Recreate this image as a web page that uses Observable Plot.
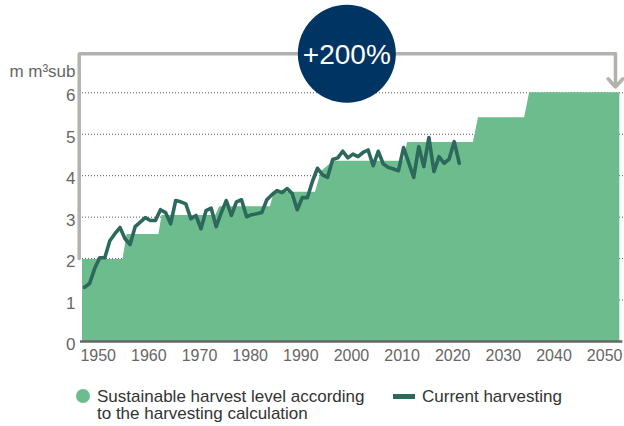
<!DOCTYPE html>
<html><head><meta charset="utf-8">
<script src="https://cdn.jsdelivr.net/npm/d3@7"></script>
<script src="https://cdn.jsdelivr.net/npm/@observablehq/plot@0.6"></script>
<style>
body{margin:0;background:#fff;font-family:"Liberation Sans",Arial,sans-serif;}
#wrap{position:relative;width:624px;height:426px;overflow:hidden;background:#fff}
#wrap svg{position:absolute;left:0;top:0;overflow:visible}
.lg-text{position:absolute;font-size:17px;line-height:17px;color:#333;white-space:pre-line}
.lg-dot{position:absolute;width:14px;height:14px;border-radius:50%}
.lg-line{position:absolute;width:22px;height:5px}
</style></head><body><div id="wrap"></div>
<script>
const harvestYears = d3.range(1947, 2022);
const harvestValues = [
  1.31, 1.40, 1.76, 2.02, 2.02, 2.43, 2.60, 2.75, 2.48, 2.34,
  2.77, 2.88, 2.99, 2.92, 2.92, 3.18, 3.11, 2.84, 3.40, 3.37,
  3.32, 2.96, 3.04, 2.72, 3.16, 3.22, 2.77, 3.11, 3.40, 3.04,
  3.37, 3.42, 3.01, 3.06, 3.08, 3.11, 3.42, 3.54, 3.64, 3.59,
  3.69, 3.57, 3.18, 3.47, 3.47, 3.86, 4.18, 4.02, 3.96, 4.39,
  4.43, 4.59, 4.43, 4.52, 4.46, 4.56, 4.62, 4.24, 4.59, 4.28,
  4.20, 4.16, 4.12, 4.68, 4.32, 3.96, 4.70, 4.22, 4.92, 4.10,
  4.46, 4.30, 4.40, 4.82, 4.30
];
const sustainYears  = [1946.6, 1954.6, 1955.4, 1961.7, 1962.3, 1972.9, 1973.7, 1983.7, 1984.5, 1992.6, 1993.8, 1996.2, 2010.0, 2010.8, 2023.8, 2024.8, 2033.9, 2034.9, 2052.7];
const sustainValues = [1.98,   1.98,   2.58,   2.58,   3.04,   3.04,   3.25,   3.25,   3.60,   3.60,   4.10,   4.35,   4.35,   4.80,   4.80,   5.40,   5.40,   6.00,   6.00];
const xTicks = [1950, 1960, 1970, 1980, 1990, 2000, 2010, 2020, 2030, 2040, 2050];
const yTicks = [0, 1, 2, 3, 4, 5, 6];
const yLabel = "m m³sub";
const changeLabel = "+200%";
const changeFrom = 2, changeTo = 6;
const legendLabels = ["Sustainable harvest level according\nto the harvesting calculation", "Current harvesting"];

const colors = {area: "#6cbc8d", line: "#2d685c", navy: "#003463", bracket: "#b3b3ae", text: "#666"};

const harvest = harvestYears.map((year, i) => ({year, value: harvestValues[i]}));
const sustain = sustainYears.map((year, i) => ({year, value: sustainValues[i]}));

// annotation bracket geometry (data units)
const bracketLeft = 1945.95, bracketRight = 2051.85, bracketTop = 6.94, arrowTip = 6.14;
const bracket = [
  {x: bracketLeft, y: changeFrom},
  {x: bracketLeft, y: bracketTop},
  {x: bracketRight, y: bracketTop}
];
const badge = [{x: 1998.8, y: bracketTop, label: changeLabel}];

const chart = Plot.plot({
  width: 624,
  height: 372,
  marginLeft: 82,
  marginRight: 4.7,
  marginTop: 92.3,
  marginBottom: 31,
  x: {domain: [1946.6, 2052.7]},
  y: {domain: [0, 6]},
  style: {fontFamily: "'Liberation Sans', Arial, sans-serif", background: "transparent", overflow: "visible"},
  marks: [
    Plot.ruleY(yTicks.filter(d => d > 0), {stroke: "#555", strokeWidth: 1, strokeDasharray: "1,2", insetRight: -5}),
    Plot.areaY(sustain, {x: "year", y: "value", fill: colors.area, curve: "linear"}),
    Plot.ruleY([0], {stroke: "#666", strokeWidth: 2.5, insetLeft: -2, insetRight: -3}),
    Plot.lineY(harvest, {x: "year", y: "value", stroke: colors.line, strokeWidth: 3.6, strokeLinejoin: "round", strokeLinecap: "round"}),
    Plot.line(bracket, {x: "x", y: "y", stroke: colors.bracket, strokeWidth: 3.5, strokeLinejoin: "miter"}),
    Plot.arrow([{x: bracketRight, y1: bracketTop, y2: arrowTip}], {x1: "x", x2: "x", y1: "y1", y2: "y2", stroke: colors.bracket, strokeWidth: 3.5, headLength: 18, headAngle: 84}),
    Plot.dot(badge, {x: "x", y: "y", r: 49, fill: colors.navy, stroke: null}),
    Plot.text(badge, {x: "x", y: "y", text: "label", fill: "white", fontSize: 28, dy: 1.5}),
    Plot.axisY(yTicks, {tickSize: 0, tickPadding: 7, fontSize: 17, fill: colors.text, label: null, dy: 3}),
    Plot.axisX(xTicks, {tickSize: 0, tickPadding: 8, fontSize: 16, fill: colors.text, label: null, tickFormat: "d", dx: -1.5}),
    Plot.text([yLabel], {frameAnchor: "top-left", text: d => d, dx: -7, dy: -21.7, textAnchor: "end", lineAnchor: "middle", fontSize: 17, fill: colors.text})
  ]
});

const wrap = document.getElementById("wrap");
wrap.appendChild(chart);

function add(cls, style, text) {
  const el = document.createElement("div");
  el.className = cls;
  Object.assign(el.style, style);
  if (text) el.textContent = text;
  wrap.appendChild(el);
}
add("lg-dot", {left: "76px", top: "389px", background: colors.area});
add("lg-text", {left: "97px", top: "387.6px"}, legendLabels[0]);
add("lg-line", {left: "393px", top: "394px", background: colors.line});
add("lg-text", {left: "422px", top: "387.6px"}, legendLabels[1]);
</script>
</body></html>
